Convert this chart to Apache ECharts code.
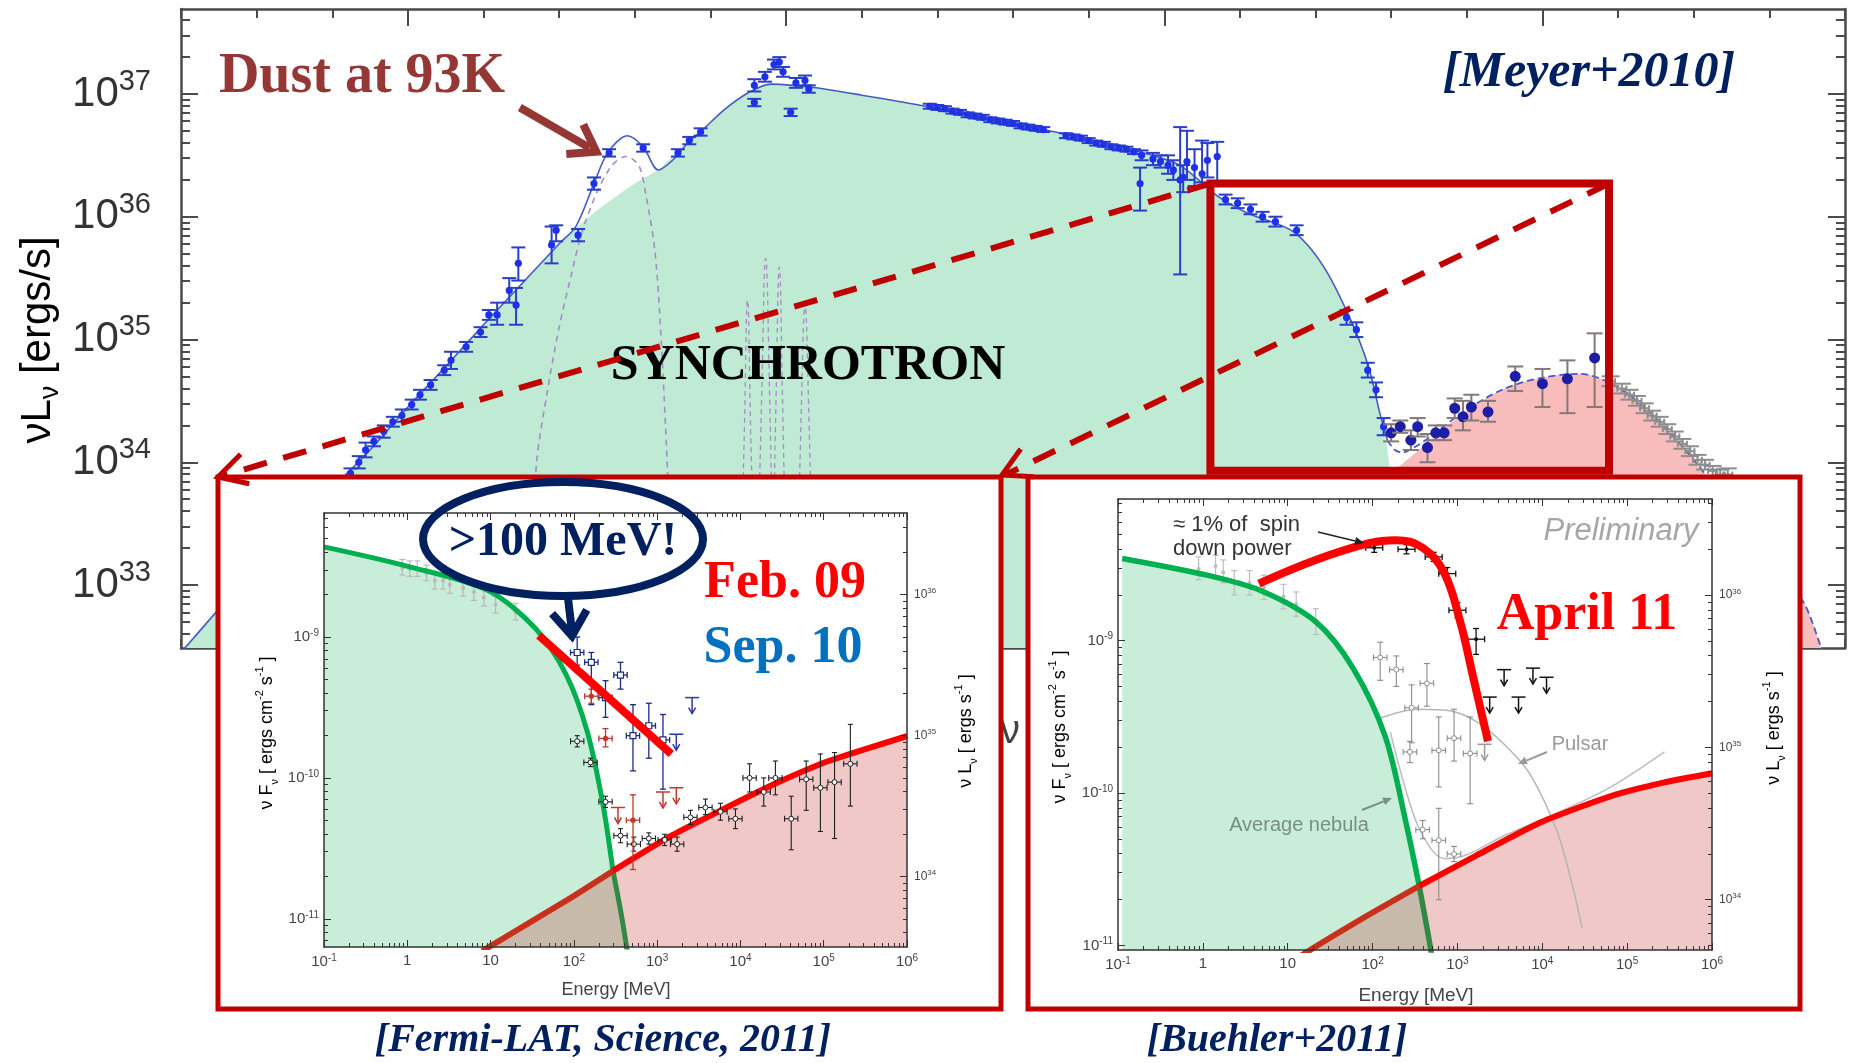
<!DOCTYPE html>
<html>
<head>
<meta charset="utf-8">
<script src="https://cdn.jsdelivr.net/npm/echarts@6/dist/echarts.min.js"></script>
<style>
  html, body { margin: 0; padding: 0; background: #ffffff; }
  #chart { width: 1854px; height: 1063px; }
</style>
</head>
<body>
<div id="chart"></div>
<script>
// ============ Crab Nebula broadband SED: log10(nu / Hz) vs log10(nuLnu / erg s^-1) ============
const MAIN_X_TICKS = [10, 15, 20, 25];
const MAIN_Y_TICKS = [33, 34, 35, 36, 37];

// synchrotron component (green)
const SYNC_MODEL = [[7.0,32.45],[8.0,33.15],[9.0,33.79],[9.5,34.1],[10.0,34.45],[10.5,34.78],[11.0,35.12],[11.5,35.45],
  [12.0,35.78],[12.5,36.05],[13.0,36.27],[13.3,36.38],[13.6,36.55],[13.9,36.71],[14.2,36.88],[14.5,37.01],[14.8,37.08],
  [15.1,37.07],[15.4,37.05],[16.0,36.99],[16.85,36.9],[17.5,36.82],[18.4,36.71],[19.0,36.63],[19.6,36.54],[20.2,36.42],
  [20.7,36.17],[21.1,36.03],[21.7,35.88],[22.1,35.6],[22.45,35.18],[22.7,34.78],[22.85,34.4],[22.95,34.1],[23.02,33.7],
  [23.08,33.0],[23.12,32.3]];
// inverse-Compton component (pink)
const IC_MODEL = [[19.0,32.2],[20.0,32.75],[21.0,33.22],[22.0,33.58],[22.5,33.75],[23.0,33.92],[23.5,34.17],[24.0,34.42],
  [24.5,34.6],[25.0,34.69],[25.5,34.72],[26.0,34.61],[26.5,34.36],[27.0,34.02],[27.5,33.62],[28.0,33.25],[28.46,32.85],
  [28.68,32.5],[29.0,31.9]];
// thermal dust at 93 K
const DUST_MODEL = [[11.55,32.4],[11.7,33.99],[11.85,34.6],[12.0,35.1],[12.15,35.5],[12.3,35.87],[12.5,36.2],[12.7,36.42],
  [12.88,36.49],[13.05,36.42],[13.14,36.2],[13.26,35.75],[13.33,35.2],[13.43,33.96],[13.52,32.4]];
// optical line components
const LINE_A = [[14.40,33.0],[14.45,34.3],[14.49,35.32],[14.53,34.3],[14.58,33.0]];
const LINE_B = [[14.62,33.0],[14.68,34.6],[14.73,35.66],[14.78,34.6],[14.83,33.0]];
const LINE_C = [[14.82,33.0],[14.87,34.6],[14.91,35.59],[14.95,34.6],[15.0,33.0]];
const LINE_D = [[15.15,33.0],[15.2,34.4],[15.25,35.26],[15.3,34.4],[15.35,33.0]];
// total model
const TOTAL_MODEL = [[7.0,32.45],[8.0,33.15],[9.0,33.79],[9.5,34.1],[10.0,34.45],[10.5,34.78],[11.0,35.12],[11.5,35.45],
  [12.0,35.78],[12.22,35.92],[12.46,36.27],[12.64,36.52],[12.9,36.66],[13.11,36.57],[13.31,36.38],[13.5,36.46],[13.7,36.6],
  [13.9,36.71],[14.2,36.88],[14.5,37.01],[14.8,37.08],[15.1,37.07],[15.4,37.05],[16.0,36.99],[16.85,36.9],[17.5,36.82],
  [18.4,36.71],[19.0,36.63],[19.6,36.54],[20.2,36.42],[20.7,36.17],[21.1,36.03],[21.7,35.88],[22.1,35.6],[22.45,35.18],
  [22.7,34.78],[22.85,34.4],[22.95,34.18]];
const TOTAL_MODEL_IC = [[22.95,34.18],[23.05,34.1],[23.15,34.08],[23.3,34.12],[23.5,34.2],[24.0,34.43],[24.5,34.6],[25.0,34.69],
  [25.5,34.72],[26.0,34.61],[26.5,34.36],[27.0,34.02],[27.5,33.62],[28.0,33.25],[28.46,32.85],[28.68,32.5],[28.8,32.3]];

// measurements: [log nu, log nuLnu, lower, upper]
const SED_POINTS = [
  [9.12,33.8,33.76,33.84],[9.24,33.91,33.87,33.95],[9.35,34.0,33.95,34.05],[9.44,34.1,34.04,34.16],[9.55,34.17,34.13,34.21],
  [9.68,34.25,34.2,34.3],[9.8,34.33,34.29,34.37],[9.92,34.38,34.33,34.43],[10.05,34.47,34.43,34.51],[10.16,34.55,34.51,34.59],
  [10.3,34.63,34.59,34.67],[10.48,34.75,34.71,34.79],[10.57,34.83,34.76,34.9],[10.77,34.94,34.9,34.98],[10.96,35.06,35.02,35.1],
  [11.07,35.2,35.16,35.24],[11.18,35.2,35.12,35.3],[11.34,35.4,35.3,35.5],[11.43,35.28,35.12,35.42],[11.46,35.62,35.48,35.75],
  [11.9,35.77,35.62,35.92],[11.96,35.89,35.8,35.93],[12.25,35.85,35.8,35.9],[12.46,36.27,36.22,36.32],[12.66,36.52,36.49,36.55],
  [13.11,36.56,36.53,36.59],[13.57,36.52,36.49,36.55],[13.72,36.62,36.59,36.65],[13.87,36.69,36.66,36.72],
  [14.58,37.07,37.02,37.12],[14.58,36.93,36.9,36.96],[14.72,37.14,37.1,37.18],[14.84,37.24,37.2,37.28],[14.91,37.26,37.22,37.3],
  [14.96,37.18,37.14,37.22],[15.06,36.85,36.82,36.88],[15.13,37.09,37.05,37.13],[15.25,37.11,37.07,37.15],[15.3,37.04,37.01,37.07],
  [16.9,36.9,36.88,36.92],[17.0,36.89,36.87,36.91],[17.1,36.88,36.86,36.9],[17.2,36.86,36.84,36.88],[17.3,36.85,36.83,36.87],
  [17.4,36.83,36.81,36.85],[17.5,36.82,36.8,36.84],[17.6,36.81,36.79,36.83],[17.7,36.79,36.77,36.81],[17.8,36.78,36.76,36.8],
  [17.9,36.77,36.75,36.79],[18.0,36.76,36.74,36.78],[18.1,36.74,36.72,36.76],[18.2,36.73,36.71,36.75],[18.3,36.72,36.7,36.74],
  [18.4,36.71,36.69,36.73],[18.7,36.66,36.64,36.68],[18.8,36.65,36.63,36.67],[18.9,36.64,36.62,36.66],[19.0,36.62,36.6,36.64],
  [19.1,36.6,36.58,36.62],[19.2,36.59,36.57,36.61],[19.3,36.57,36.55,36.59],[19.4,36.56,36.54,36.58],[19.5,36.55,36.53,36.57],
  [19.6,36.53,36.51,36.55],[19.7,36.5,36.46,36.54],[19.68,36.27,36.05,36.4],[19.85,36.47,36.42,36.52],[19.95,36.45,36.4,36.5],
  [20.05,36.42,36.35,36.5],[20.12,36.38,36.3,36.46],[20.21,36.3,35.53,36.73],[20.25,36.32,36.2,36.42],[20.3,36.45,36.3,36.7],
  [20.4,36.4,36.25,36.55],[20.5,36.35,36.28,36.62],[20.57,36.46,36.32,36.6],[20.7,36.49,36.28,36.61],[20.81,36.14,36.1,36.18],
  [20.97,36.11,36.07,36.15],[21.14,36.06,36.02,36.1],[21.3,36.0,35.96,36.04],[21.47,35.96,35.92,36.0],[21.75,35.89,35.85,35.93],
  [22.41,35.18,35.12,35.24],[22.54,35.08,35.02,35.14],[22.69,34.75,34.69,34.81],[22.8,34.59,34.53,34.65],[22.9,34.29,34.22,34.36]
];
const IC_POINTS = [
  [23.0,34.24,34.17,34.31],[23.12,34.29,34.24,34.34],[23.26,34.18,34.1,34.26],[23.35,34.29,34.21,34.36],[23.48,34.12,34.0,34.23],
  [23.59,34.24,34.18,34.3],[23.7,34.24,34.18,34.3],[23.84,34.44,34.36,34.52],[23.95,34.37,34.26,34.5],[24.06,34.45,34.34,34.55],
  [24.28,34.41,34.33,34.5],[24.64,34.7,34.58,34.78],[25.0,34.64,34.45,34.76],[25.33,34.68,34.4,34.83],[25.69,34.85,34.45,35.05]
];
const HESS_POINTS = [
  [25.9,34.66,34.62,34.7],[26.05,34.6,34.56,34.64],[26.15,34.55,34.51,34.59],[26.25,34.5,34.46,34.54],[26.35,34.44,34.4,34.48],
  [26.45,34.38,34.34,34.42],[26.55,34.33,34.29,34.37],[26.65,34.27,34.23,34.31],[26.75,34.21,34.17,34.25],[26.85,34.15,34.11,34.19],
  [26.95,34.09,34.05,34.13],[27.05,34.02,33.98,34.06],[27.15,33.98,33.94,34.02],[27.25,33.93,33.89,33.97],[27.35,33.9,33.86,33.94],
  [27.45,33.9,33.85,33.95]
];
// highlighted gamma-ray window (log nu range, log nuLnu range)
const ZOOM_NU = [20.61, 25.88];
const ZOOM_L = [33.93, 36.27];
// dust annotation arrow: tail and tip in data space
const DUST_ARROW = [[11.48, 36.89], [12.49, 36.53]];

// ============ Gamma-ray insets: log10(E / MeV) vs log10(nuFnu / erg cm^-2 s^-1) ============
const LOG_4PI_D2 = 44.7;                     // nuLnu = 4 pi d^2 nuFnu
const INSET_X_TICKS = [-1, 0, 1, 2, 3, 4, 5, 6];
const INSET_L_TICKS = [34, 35, 36];

// Fermi-LAT (Science 2011)
const FERMI_Y_TICKS = [-11, -10, -9];
const FERMI_CROSS = 2.47;
const FERMI_SYNC = [[-1,-8.36],[0.02,-8.5],[0.97,-8.67],[1.54,-8.94],[1.91,-9.27],[2.16,-9.67],[2.35,-10.19],[2.47,-10.66],
  [2.57,-10.97],[2.66,-11.3]];
const FERMI_IC = [[0.9,-11.23],[0.98,-11.2],[1.91,-10.87],[2.47,-10.66],[3.17,-10.41],[3.8,-10.22],[4.42,-10.04],[5.06,-9.88],
  [5.96,-9.71],[6.0,-9.7]];
const FERMI_FEB_FIT = [[1.58,-8.99],[3.17,-9.83]];
const FERMI_NEBULA_PTS = [[-0.06,-8.51,-8.56,-8.45],[0.03,-8.52,-8.57,-8.46],[0.12,-8.52,-8.57,-8.46],[0.23,-8.55,-8.6,-8.49],
  [0.33,-8.6,-8.66,-8.54],[0.43,-8.6,-8.66,-8.54],[0.51,-8.63,-8.69,-8.57],[0.67,-8.65,-8.71,-8.59],[0.8,-8.68,-8.74,-8.62],
  [0.92,-8.72,-8.78,-8.66],[1.06,-8.77,-8.83,-8.71],[1.3,-8.82,-8.88,-8.76]];
const FERMI_SEP_PTS = [[2.04,-9.11,-9.2,-9.0],[2.21,-9.18,-9.48,-9.11],[2.38,-9.43,-9.57,-9.31],[2.56,-9.27,-9.37,-9.18],
  [2.71,-9.7,-9.95,-9.48],[2.9,-9.63,-9.86,-9.47],[3.07,-9.73,-10.08,-9.55]];
const FERMI_SEP_UL = [[3.42,-9.43],[3.23,-9.69]];
const FERMI_FEB_PTS = [[2.21,-9.42,-9.47,-9.37],[2.38,-9.72,-9.78,-9.65],[2.71,-10.3,-10.65,-10.12]];
const FERMI_FEB_UL = [[3.07,-10.1],[3.23,-10.07],[2.53,-10.21]];
const FERMI_AVG_PTS = [[2.04,-9.74,-9.78,-9.7],[2.2,-9.89,-9.92,-9.86],[2.38,-10.17,-10.21,-10.13],[2.56,-10.41,-10.46,-10.36],
  [2.72,-10.47,-10.52,-10.42],[2.9,-10.43,-10.47,-10.39],[3.09,-10.44,-10.48,-10.4],[3.24,-10.47,-10.52,-10.42],
  [3.4,-10.28,-10.33,-10.23],[3.58,-10.21,-10.26,-10.15],[3.76,-10.24,-10.3,-10.18],[3.94,-10.29,-10.36,-10.22],
  [4.11,-10.0,-10.1,-9.9],[4.28,-10.1,-10.2,-10.0],[4.42,-10.0,-10.12,-9.88],[4.61,-10.29,-10.51,-10.13],
  [4.79,-10.01,-10.23,-9.88],[4.96,-10.07,-10.38,-9.83],[5.13,-10.03,-10.43,-9.82],[5.32,-9.9,-10.2,-9.62]];

// Buehler et al. 2011
const BUEHLER_Y_TICKS = [-11, -10, -9];
const BUEHLER_CROSS = 2.55;
const BUEHLER_SYNC = [[-0.95,-8.46],[0.05,-8.57],[0.68,-8.67],[1.33,-8.875],[1.77,-9.18],[2.15,-9.63],[2.4,-10.21],
  [2.55,-10.61],[2.69,-11.04],[2.73,-11.2]];
const BUEHLER_IC = [[1.05,-11.12],[1.15,-11.07],[1.89,-10.82],[2.55,-10.61],[3.22,-10.41],[3.99,-10.19],[4.81,-10.02],
  [5.44,-9.93],[6.0,-9.87]];
const BUEHLER_APR_FIT = [[0.66,-8.625],[1.33,-8.47],[1.96,-8.36],[2.27,-8.34],[2.59,-8.39],[2.84,-8.55],[3.03,-8.87],
  [3.19,-9.25],[3.36,-9.66]];
const BUEHLER_PULSAR = [[2.08,-9.51],[2.53,-9.45],[2.91,-9.46],[3.22,-9.53],[3.55,-9.68],[3.86,-9.88],[4.18,-10.26],
  [4.37,-10.64],[4.47,-10.89]];
const BUEHLER_NEB_TOTAL = [[2.21,-9.6],[2.53,-10.21],[2.84,-10.43],[3.09,-10.41],[3.55,-10.28],[4.18,-10.13],[4.81,-9.96],
  [5.44,-9.73]];
const BUEHLER_NEBULA_PTS = [[-0.05,-8.53,-8.6,-8.45],[0.15,-8.51,-8.58,-8.44],[0.24,-8.55,-8.62,-8.47],[0.37,-8.62,-8.7,-8.54],
  [0.55,-8.62,-8.7,-8.54],[0.72,-8.65,-8.73,-8.57],[0.95,-8.71,-8.79,-8.63],[1.1,-8.76,-8.84,-8.68],[1.33,-8.875,-8.96,-8.79]];
const BUEHLER_APR_PTS = [[2.02,-8.39,-8.42,-8.36],[2.4,-8.4,-8.43,-8.37],[2.72,-8.45,-8.48,-8.42],[2.88,-8.56,-8.6,-8.52],
  [3.0,-8.8,-8.85,-8.75],[3.22,-8.99,-9.09,-8.92]];
const BUEHLER_APR_UL = [[3.38,-9.37],[3.55,-9.19],[3.72,-9.37],[3.89,-9.18],[4.05,-9.24]];
const BUEHLER_QUIET_PTS = [[2.09,-9.11,-9.26,-9.01],[2.28,-9.19,-9.3,-9.1],[2.64,-9.28,-9.43,-9.15],[2.46,-9.44,-9.67,-9.29],
  [2.78,-9.72,-9.96,-9.5],[2.96,-9.64,-9.79,-9.45],[3.15,-9.74,-10.07,-9.5],[2.44,-9.73,-9.8,-9.66],[2.78,-10.31,-10.7,-10.1],
  [2.59,-10.24,-10.3,-10.18],[2.96,-10.4,-10.45,-10.35]];
const BUEHLER_QUIET_UL = [[3.32,-9.68]];

// ============ layout ============
const SANS = '"Liberation Sans", Arial, sans-serif';
const SERIF = '"Liberation Serif", "Times New Roman", serif';
const GRIDS = {
  main:    { left: 181,  top: 9,   width: 1664, height: 639, x: [7, 29],  y: [32.487, 37.692] },
  fermi:   { left: 324,  top: 513, width: 583,  height: 434, x: [-1, 6],  y: [-11.2, -8.12] },
  buehler: { left: 1118, top: 499, width: 594,  height: 451, x: [-1, 6],  y: [-11.03, -8.07] }
};
const FERMI_BOX = { x: 218, y: 477, w: 783, h: 532 };
const BUEHLER_BOX = { x: 1028, y: 477, w: 772, h: 532 };

function range(a, b) { const r = []; for (let i = a; i <= b; i++) r.push(i); return r; }
function logMinors(lo, hi, offset) {
  const out = [];
  for (let n = Math.floor(lo + offset) - 1; n <= Math.ceil(hi + offset); n++) {
    for (let k = 2; k <= 9; k++) {
      const v = n + Math.log10(k) - offset;
      if (v > lo && v < hi) out.push(v);
    }
  }
  return out;
}
function supFmt(v) {
  const n = Math.round(v);
  if (n === 0) return '{b|1}';
  if (n === 1) return '{b|10}';
  return '{b|10}{s|' + n + '}';
}

const xAxes = [], yAxes = [];
const AX = {};
function axisPair(list, gridIndex, rng, position, t, label, extra) {
  const common = { type: 'value', gridIndex, min: rng[0], max: rng[1], position, z: t.z,
    splitLine: { show: false }, axisPointer: { show: false }, silent: true };
  const major = Object.assign({}, common, {
    axisLine: { show: true, onZero: false, lineStyle: { color: t.color, width: t.lineWidth } },
    axisTick: { show: true, inside: true, length: t.major, customValues: t.majors,
      lineStyle: { color: t.color, width: t.tickWidth } },
    axisLabel: label ? Object.assign({ show: true }, label) : { show: false }
  }, extra || {});
  const minor = Object.assign({}, common, {
    axisLine: { show: false, onZero: false },
    axisTick: { show: true, inside: true, length: t.minor, customValues: t.minors,
      lineStyle: { color: t.color, width: t.tickWidth } },
    axisLabel: { show: false }
  });
  const idx = list.length;
  list.push(major, minor);
  return idx;
}

// ---- main axes
const mainTick = { z: 1, color: '#4a4a4a', lineWidth: 2.5, tickWidth: 2, major: 17, minor: 9 };
const mainYLabel = {
  customValues: MAIN_Y_TICKS, margin: 30, formatter: supFmt,
  rich: { b: { fontSize: 42, fontFamily: SANS, color: '#333' },
          s: { fontSize: 29, fontFamily: SANS, color: '#333', padding: [0, 0, 24, 0] } }
};
const mainXLabel = {
  customValues: MAIN_X_TICKS, margin: 12, formatter: supFmt,
  rich: { b: { fontSize: 42, fontFamily: SANS, color: '#333' },
          s: { fontSize: 29, fontFamily: SANS, color: '#333', padding: [0, 0, 24, 0] } }
};
const mxT = Object.assign({}, mainTick, { majors: MAIN_X_TICKS, minors: range(7, 29) });
const myT = Object.assign({}, mainTick, { majors: MAIN_Y_TICKS, minors: logMinors(GRIDS.main.y[0], GRIDS.main.y[1], 0) });
AX.mainX = axisPair(xAxes, 0, GRIDS.main.x, 'bottom', mxT, mainXLabel, {
  name: 'ν [Hz]', nameLocation: 'middle', nameGap: 36,
  nameTextStyle: { fontSize: 40, fontFamily: SANS, color: '#444', padding: [0, 0, 0, 76] }
});
axisPair(xAxes, 0, GRIDS.main.x, 'top', mxT, null);
AX.mainY = axisPair(yAxes, 0, GRIDS.main.y, 'left', myT, mainYLabel);
axisPair(yAxes, 0, GRIDS.main.y, 'right', myT, null);

// ---- inset axes
function insetAxes(gridIndex, g, yTicks, fs) {
  const t = { z: 14, color: '#333', lineWidth: 1.5, tickWidth: 1, major: 7, minor: 4 };
  const xt = Object.assign({}, t, { majors: INSET_X_TICKS, minors: logMinors(g.x[0], g.x[1], 0) });
  const yt = Object.assign({}, t, { majors: yTicks, minors: logMinors(g.y[0], g.y[1], 0) });
  const rt = Object.assign({}, t, { majors: INSET_L_TICKS.map(n => n - LOG_4PI_D2),
    minors: logMinors(g.y[0], g.y[1], LOG_4PI_D2) });
  const richBig = { b: { fontSize: fs, fontFamily: SANS, color: '#444' },
                    s: { fontSize: Math.round(fs * 0.66), fontFamily: SANS, color: '#444', padding: [0, 0, Math.round(fs * 0.55), 0] } };
  const richSmall = { b: { fontSize: fs - 3, fontFamily: SANS, color: '#444' },
                      s: { fontSize: Math.round((fs - 3) * 0.66), fontFamily: SANS, color: '#444', padding: [0, 0, Math.round((fs - 3) * 0.55), 0] } };
  const xi = axisPair(xAxes, gridIndex, g.x, 'bottom', xt,
    { customValues: INSET_X_TICKS, margin: 6, formatter: supFmt, rich: richBig });
  axisPair(xAxes, gridIndex, g.x, 'top', xt, null);
  const yi = axisPair(yAxes, gridIndex, g.y, 'left', yt,
    { customValues: yTicks, margin: 5, formatter: supFmt, rich: richBig });
  axisPair(yAxes, gridIndex, g.y, 'right', rt,
    { customValues: INSET_L_TICKS.map(n => n - LOG_4PI_D2), margin: 7,
      formatter: v => supFmt(v + LOG_4PI_D2), rich: richSmall });
  return { x: xi, y: yi };
}
AX.fermi = insetAxes(1, GRIDS.fermi, FERMI_Y_TICKS, 15);
AX.buehler = insetAxes(2, GRIDS.buehler, BUEHLER_Y_TICKS, 15);
const GI = {
  main: { x: AX.mainX, y: AX.mainY },
  fermi: AX.fermi,
  buehler: AX.buehler
};

// ---- series builders
function curve(name, data, g, color, width, opts) {
  opts = opts || {};
  const s = {
    type: 'line', name, data, xAxisIndex: GI[g].x, yAxisIndex: GI[g].y, silent: true,
    showSymbol: false, symbol: 'none', smooth: opts.smooth === undefined ? 0.3 : opts.smooth, clip: true,
    lineStyle: { color, width, type: opts.dash || 'solid', opacity: width > 0 ? 1 : 0, cap: opts.cap || 'butt' },
    z: opts.z || 3, animation: false
  };
  if (opts.area) s.areaStyle = { color: opts.area, origin: 'start', opacity: 1 };
  return s;
}
function errPoints(name, data, g, st) {
  return {
    type: 'custom', name, data, xAxisIndex: GI[g].x, yAxisIndex: GI[g].y, silent: true, z: st.z || 13,
    animation: false,
    renderItem(params, api) {
      const x = api.value(0), y = api.value(1);
      const p = api.coord([x, y]);
      const lo = api.coord([x, api.value(2)]);
      const hi = api.coord([x, api.value(3)]);
      const ls = { stroke: st.bar, lineWidth: st.bw };
      const ch = [{ type: 'line', shape: { x1: p[0], y1: lo[1], x2: p[0], y2: hi[1] }, style: ls }];
      if (st.cap) {
        ch.push({ type: 'line', shape: { x1: p[0] - st.cap, y1: lo[1], x2: p[0] + st.cap, y2: lo[1] }, style: ls });
        ch.push({ type: 'line', shape: { x1: p[0] - st.cap, y1: hi[1], x2: p[0] + st.cap, y2: hi[1] }, style: ls });
      }
      if (st.xerr) {
        const a = api.coord([x - st.xerr, y]), b = api.coord([x + st.xerr, y]);
        ch.push({ type: 'line', shape: { x1: a[0], y1: p[1], x2: b[0], y2: p[1] }, style: ls });
        ch.push({ type: 'line', shape: { x1: a[0], y1: p[1] - 3, x2: a[0], y2: p[1] + 3 }, style: ls });
        ch.push({ type: 'line', shape: { x1: b[0], y1: p[1] - 3, x2: b[0], y2: p[1] + 3 }, style: ls });
      }
      if (st.marker === 'dot') {
        ch.push({ type: 'circle', shape: { cx: p[0], cy: p[1], r: st.r }, style: { fill: st.fill } });
      } else if (st.marker === 'ring') {
        ch.push({ type: 'circle', shape: { cx: p[0], cy: p[1], r: st.r }, style: { fill: '#fff', stroke: st.bar, lineWidth: 1 } });
      } else if (st.marker === 'square') {
        ch.push({ type: 'rect', shape: { x: p[0] - st.r, y: p[1] - st.r, width: 2 * st.r, height: 2 * st.r },
          style: { fill: '#fff', stroke: st.bar, lineWidth: 1.2 } });
      }
      return { type: 'group', children: ch };
    }
  };
}
function upperLimits(name, data, g, color, z) {
  return {
    type: 'custom', name, data, xAxisIndex: GI[g].x, yAxisIndex: GI[g].y, silent: true, z: z || 13,
    animation: false,
    renderItem(params, api) {
      const p = api.coord([api.value(0), api.value(1)]);
      const s = { stroke: color, lineWidth: 1.5, fill: null };
      const L = 16;
      return { type: 'group', children: [
        { type: 'line', shape: { x1: p[0] - 7, y1: p[1], x2: p[0] + 7, y2: p[1] }, style: s },
        { type: 'line', shape: { x1: p[0], y1: p[1], x2: p[0], y2: p[1] + L }, style: s },
        { type: 'polyline', shape: { points: [[p[0] - 3.5, p[1] + L - 6], [p[0], p[1] + L], [p[0] + 3.5, p[1] + L - 6]] }, style: s }
      ] };
    }
  };
}
const below = (arr, c) => arr.filter(d => d[0] <= c);
const above = (arr, c) => arr.filter(d => d[0] >= c);

// ---- main panel series
const series = [
  curve('Synchrotron', SYNC_MODEL, 'main', '#000', 0, { area: '#bfead4', z: 2 }),
  curve('Inverse Compton', IC_MODEL, 'main', '#000', 0, { area: '#f9bcbc', z: 2 }),
  curve('Dust', DUST_MODEL, 'main', '#a48cc8', 1.6, { dash: [6, 5], z: 3 }),
  curve('Line A', LINE_A, 'main', '#a88cc6', 1.3, { dash: [5, 4], z: 3, smooth: 0.5 }),
  curve('Line B', LINE_B, 'main', '#a88cc6', 1.3, { dash: [5, 4], z: 3, smooth: 0.5 }),
  curve('Line C', LINE_C, 'main', '#a88cc6', 1.3, { dash: [5, 4], z: 3, smooth: 0.5 }),
  curve('Line D', LINE_D, 'main', '#a88cc6', 1.3, { dash: [5, 4], z: 3, smooth: 0.5 }),
  curve('Total', TOTAL_MODEL, 'main', '#4659c4', 1.6, { z: 4 }),
  curve('Total IC', TOTAL_MODEL_IC, 'main', '#4659c4', 1.8, { z: 4, dash: [7, 4] }),
  errPoints('HESS', HESS_POINTS, 'main', { bar: '#8d8d8d', bw: 2, cap: 9, xerr: 0.06, marker: 'none', z: 5 }),
  errPoints('SED', SED_POINTS, 'main', { bar: '#2a3fc8', bw: 2, cap: 7, marker: 'dot', r: 3.6, fill: '#1f30ea', z: 5 }),
  errPoints('IC data', IC_POINTS, 'main', { bar: '#857878', bw: 2, cap: 8, marker: 'dot', r: 5.5, fill: '#1d1da6', z: 5 })
];

// ---- Fermi inset
series.push(
  curve('F sync fill', FERMI_SYNC, 'fermi', '#000', 0, { area: 'rgba(5,173,78,0.22)', z: 10 }),
  curve('F ic fill', FERMI_IC, 'fermi', '#000', 0, { area: 'rgba(195,35,35,0.25)', z: 10 }),
  errPoints('F nebula', FERMI_NEBULA_PTS, 'fermi', { bar: '#b9b9b9', bw: 1.2, cap: 3, marker: 'dot', r: 2, fill: '#b9b9b9', z: 11 }),
  curve('F sync', below(FERMI_SYNC, FERMI_CROSS), 'fermi', '#00b050', 5, { z: 12 }),
  curve('F sync low', above(FERMI_SYNC, FERMI_CROSS), 'fermi', '#2f8a46', 5, { z: 12 }),
  curve('F ic low', below(FERMI_IC, FERMI_CROSS), 'fermi', '#c9301c', 6, { z: 12, smooth: 0.2 }),
  curve('F ic', above(FERMI_IC, FERMI_CROSS), 'fermi', '#ff0000', 6, { z: 12, smooth: 0.2 }),
  errPoints('F avg', FERMI_AVG_PTS, 'fermi', { bar: '#1e1e1e', bw: 1.1, cap: 2.5, xerr: 0.08, marker: 'ring', r: 2.5, z: 13 }),
  errPoints('F sep', FERMI_SEP_PTS, 'fermi', { bar: '#1b2a86', bw: 1.3, cap: 3, xerr: 0.08, marker: 'square', r: 3, z: 13 }),
  upperLimits('F sep UL', FERMI_SEP_UL, 'fermi', '#2e3aa0', 13),
  errPoints('F feb', FERMI_FEB_PTS, 'fermi', { bar: '#c0392b', bw: 1.3, cap: 3, xerr: 0.08, marker: 'dot', r: 2.6, fill: '#c0392b', z: 13 }),
  upperLimits('F feb UL', FERMI_FEB_UL, 'fermi', '#c0392b', 13),
  curve('F feb fit', FERMI_FEB_FIT, 'fermi', '#ff0000', 8, { z: 15, smooth: false })
);

// ---- Buehler inset
series.push(
  curve('B sync fill', BUEHLER_SYNC, 'buehler', '#000', 0, { area: 'rgba(5,173,78,0.22)', z: 10 }),
  curve('B ic fill', BUEHLER_IC, 'buehler', '#000', 0, { area: 'rgba(195,35,35,0.25)', z: 10 }),
  errPoints('B nebula', BUEHLER_NEBULA_PTS, 'buehler', { bar: '#bdbdbd', bw: 1.2, cap: 3, marker: 'dot', r: 2, fill: '#bdbdbd', z: 11 }),
  curve('B pulsar', BUEHLER_PULSAR, 'buehler', '#b5b5b5', 1.5, { z: 11 }),
  curve('B total', BUEHLER_NEB_TOTAL, 'buehler', '#bdbdbd', 1.5, { z: 11 }),
  errPoints('B quiet', BUEHLER_QUIET_PTS, 'buehler', { bar: '#8c8c8c', bw: 1.1, cap: 3, xerr: 0.08, marker: 'ring', r: 2.5, z: 12 }),
  upperLimits('B quiet UL', BUEHLER_QUIET_UL, 'buehler', '#9a9a9a', 12),
  curve('B sync', below(BUEHLER_SYNC, BUEHLER_CROSS), 'buehler', '#00b050', 5.5, { z: 12 }),
  curve('B sync low', above(BUEHLER_SYNC, BUEHLER_CROSS), 'buehler', '#2f8a46', 5.5, { z: 12 }),
  curve('B ic low', below(BUEHLER_IC, BUEHLER_CROSS), 'buehler', '#c9301c', 6, { z: 12, smooth: 0.2 }),
  curve('B ic', above(BUEHLER_IC, BUEHLER_CROSS), 'buehler', '#ff0000', 6, { z: 12, smooth: 0.2 }),
  errPoints('B april', BUEHLER_APR_PTS, 'buehler', { bar: '#111', bw: 1.3, cap: 3, xerr: 0.1, marker: 'dot', r: 2, fill: '#111', z: 13 }),
  upperLimits('B april UL', BUEHLER_APR_UL, 'buehler', '#111', 13),
  curve('B april fit', BUEHLER_APR_FIT, 'buehler', '#ff0000', 8, { z: 15, smooth: 0.4 })
);

const option = {
  animation: false,
  backgroundColor: '#ffffff',
  grid: [GRIDS.main, GRIDS.fermi, GRIDS.buehler].map(g => ({ left: g.left, top: g.top, width: g.width, height: g.height, show: false })),
  xAxis: xAxes,
  yAxis: yAxes,
  series
};

const chart = echarts.init(document.getElementById('chart'), null, { renderer: 'canvas' });
chart.setOption(option);

// ---------- annotations ----------
function px(p) { return chart.convertToPixel({ xAxisIndex: GI.main.x, yAxisIndex: GI.main.y }, p); }
function text(x, y, str, font, fill, z, align) {
  const a = align || 'center';
  return { type: 'text', x, y, z, silent: true,
    style: { text: str, font, fill, align: a, verticalAlign: 'middle', textAlign: a, textVerticalAlign: 'middle' } };
}
function chevron(tip, from, len, spread, color, width, z) {
  const a = Math.atan2(from[1] - tip[1], from[0] - tip[0]);
  const p1 = [tip[0] + len * Math.cos(a + spread), tip[1] + len * Math.sin(a + spread)];
  const p2 = [tip[0] + len * Math.cos(a - spread), tip[1] + len * Math.sin(a - spread)];
  return { type: 'polyline', z, silent: true, shape: { points: [p1, tip, p2] },
    style: { stroke: color, lineWidth: width, fill: null, lineJoin: 'miter', lineCap: 'butt' } };
}
function headArrow(from, tip, color, width, z) {
  const a = Math.atan2(tip[1] - from[1], tip[0] - from[0]);
  const L = 9, W = 4;
  const base = [tip[0] - L * Math.cos(a), tip[1] - L * Math.sin(a)];
  return [
    { type: 'line', z, silent: true, shape: { x1: from[0], y1: from[1], x2: base[0], y2: base[1] }, style: { stroke: color, lineWidth: width } },
    { type: 'polygon', z, silent: true, shape: { points: [tip,
      [base[0] + W * Math.sin(a), base[1] - W * Math.cos(a)], [base[0] - W * Math.sin(a), base[1] + W * Math.cos(a)]] },
      style: { fill: color } }
  ];
}

const rA = px([ZOOM_NU[0], ZOOM_L[1]]);
const rB = px([ZOOM_NU[1], ZOOM_L[0]]);
const dustTail = px(DUST_ARROW[0]);
const dustTip = px(DUST_ARROW[1]);
const dustAng = Math.atan2(dustTip[1] - dustTail[1], dustTip[0] - dustTail[0]);
const dustLineEnd = [dustTip[0] - 8 * Math.cos(dustAng), dustTip[1] - 8 * Math.sin(dustAng)];
const fTL = [FERMI_BOX.x, FERMI_BOX.y];
const fTR = [FERMI_BOX.x + FERMI_BOX.w, FERMI_BOX.y];

const SUBSUP = {
  t: { fontSize: 18, fontFamily: SANS, color: '#444', lineHeight: 26 },
  sb: { fontSize: 11, fontFamily: SANS, color: '#444', verticalAlign: 'bottom', lineHeight: 14 },
  sp: { fontSize: 11, fontFamily: SANS, color: '#444', verticalAlign: 'top', lineHeight: 14 }
};
const nuFnu = '{t|ν F}{sb|ν}{t| [ ergs cm}{sp|-2}{t| s}{sp|-1}{t| ]}';
const nuLnu = '{t|ν L}{sb|ν}{t| [ ergs s}{sp|-1}{t| ]}';
function vname(x, y, str) {
  return { type: 'text', x, y, z: 16, rotation: Math.PI / 2, silent: true,
    style: { text: str, rich: SUBSUP, align: 'center', verticalAlign: 'middle', textAlign: 'center', textVerticalAlign: 'middle' } };
}

const graphics = [
  // main panel: y-axis title
  { type: 'text', x: 38, y: 340, z: 1, rotation: Math.PI / 2, silent: true,
    style: { text: '{a|νL}{c|ν}{a| [ergs/s]}', align: 'center', verticalAlign: 'middle', textAlign: 'center', textVerticalAlign: 'middle',
      rich: { a: { fontSize: 42, fontFamily: SANS, color: '#333', lineHeight: 52 },
              c: { fontSize: 27, fontFamily: SANS, color: '#333', verticalAlign: 'bottom', lineHeight: 30 } } } },
  text(362, 78, 'Dust at 93K', 'bold 56px ' + SERIF, '#953735', 9),
  { type: 'line', z: 9, silent: true, shape: { x1: dustTail[0], y1: dustTail[1], x2: dustLineEnd[0], y2: dustLineEnd[1] },
    style: { stroke: '#953735', lineWidth: 8 } },
  chevron(dustTip, dustTail, 30, 0.6, '#953735', 8, 9),
  text(1589, 73, '[Meyer+2010]', 'italic bold 50px ' + SERIF, '#002060', 9),
  text(808, 366, 'SYNCHROTRON', 'bold 50px ' + SERIF, '#000000', 9),
  // highlighted window and projection lines
  { type: 'rect', z: 9, silent: true, shape: { x: rA[0], y: rA[1], width: rB[0] - rA[0], height: rB[1] - rA[1] },
    style: { fill: null, stroke: '#c00000', lineWidth: 8 } },
  { type: 'line', z: 9, silent: true, shape: { x1: rA[0], y1: rA[1], x2: fTL[0] + 4, y2: fTL[1] - 1 },
    style: { stroke: '#c00000', lineWidth: 6, lineDash: [24, 17] } },
  chevron(fTL, rA, 32, 0.5, '#c00000', 5, 9),
  { type: 'line', z: 9, silent: true, shape: { x1: rB[0], y1: rA[1], x2: fTR[0] + 4, y2: fTR[1] - 2 },
    style: { stroke: '#c00000', lineWidth: 6, lineDash: [24, 17] } },
  chevron([fTR[0] + 1, fTR[1] - 2], [rB[0], rA[1]], 32, 0.5, '#c00000', 5, 9),
  // inset frames
  { type: 'rect', z: 8, silent: true, shape: { x: FERMI_BOX.x, y: FERMI_BOX.y, width: FERMI_BOX.w, height: FERMI_BOX.h },
    style: { fill: '#ffffff', stroke: '#c00000', lineWidth: 5 } },
  { type: 'rect', z: 8, silent: true, shape: { x: BUEHLER_BOX.x, y: BUEHLER_BOX.y, width: BUEHLER_BOX.w, height: BUEHLER_BOX.h },
    style: { fill: '#ffffff', stroke: '#c00000', lineWidth: 5 } },
  // Fermi inset labels
  text(616, 990, 'Energy [MeV]', '18px ' + SANS, '#444', 16),
  vname(267, 733, nuFnu),
  vname(966, 731, nuLnu),
  { type: 'ellipse', z: 20, silent: true, shape: { cx: 563, cy: 539, rx: 140, ry: 57 },
    style: { fill: null, stroke: '#002060', lineWidth: 8 } },
  text(563, 543, '>100 MeV!', 'bold 48px ' + SERIF, '#002060', 20),
  { type: 'line', z: 20, silent: true, shape: { x1: 568, y1: 598, x2: 572, y2: 632 }, style: { stroke: '#002060', lineWidth: 8 } },
  chevron([572, 636], [568, 598], 30, 0.62, '#002060', 8, 20),
  text(785, 584, 'Feb. 09', 'bold 52px ' + SERIF, '#ff0000', 20),
  text(783, 649, 'Sep. 10', 'bold 52px ' + SERIF, '#0070c0', 20),
  text(603, 1041, '[Fermi-LAT, Science, 2011]', 'italic bold 40px ' + SERIF, '#002060', 20),
  // Buehler inset labels
  text(1416, 996, 'Energy [MeV]', '19px ' + SANS, '#444', 16),
  vname(1060, 727, nuFnu),
  vname(1774, 728, nuLnu),
  text(1621, 531, 'Preliminary', 'italic 31px ' + SANS, '#a6a6a6', 16),
  text(1173, 525, '≈ 1% of  spin', '22px ' + SANS, '#333', 16, 'left'),
  text(1173, 549, 'down power', '22px ' + SANS, '#333', 16, 'left'),
  ...headArrow([1318, 532], [1364, 543], '#222', 1.5, 16),
  text(1580, 744, 'Pulsar', '20px ' + SANS, '#9a9a9a', 16),
  ...headArrow([1547, 752], [1518, 764], '#9a9a9a', 2, 16),
  text(1299, 825, 'Average nebula', '20px ' + SANS, '#7b8e82', 16),
  ...headArrow([1362, 810], [1392, 798], '#7b8e82', 2, 16),
  text(1587, 616, 'April 11', 'bold 52px ' + SERIF, '#ff0000', 20),
  text(1277, 1041, '[Buehler+2011]', 'italic bold 40px ' + SERIF, '#002060', 20)
];
chart.setOption({ graphic: { elements: graphics } });
</script>
</body>
</html>
